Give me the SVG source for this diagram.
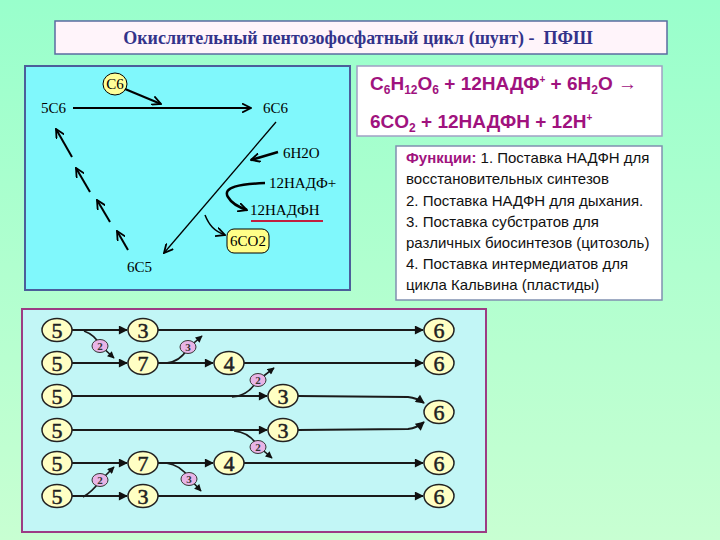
<svg xmlns="http://www.w3.org/2000/svg" width="720" height="540" viewBox="0 0 720 540">
<defs>
<linearGradient id="bg" x1="0" y1="0" x2="0" y2="1">
<stop offset="0" stop-color="#99FFCC"/>
<stop offset="1" stop-color="#C8FFD2"/>
</linearGradient>
<marker id="v" viewBox="0 0 10 10" refX="9" refY="5" markerWidth="10" markerHeight="10" markerUnits="userSpaceOnUse" orient="auto">
<path d="M0,0.5 L9,5 L0,9.5" fill="none" stroke="#000" stroke-width="1.8"/>
</marker>
<marker id="tri" viewBox="0 0 10 10" refX="9" refY="5" markerWidth="10" markerHeight="9" markerUnits="userSpaceOnUse" orient="auto">
<path d="M0,0 L10,5 L0,10 z" fill="#111"/>
</marker>
<marker id="tris" viewBox="0 0 10 10" refX="9" refY="5" markerWidth="8" markerHeight="7" markerUnits="userSpaceOnUse" orient="auto">
<path d="M0,0 L10,5 L0,10 z" fill="#111"/>
</marker>
</defs>
<style>
.lbl{font-family:"Liberation Serif",serif;font-size:15px;fill:#000}
.num{font-family:"Liberation Serif",serif;font-size:22px;fill:#222;stroke:#222;stroke-width:0.5;text-anchor:middle}
.pk{font-family:"Liberation Serif",serif;font-size:11px;font-weight:bold;fill:#333;text-anchor:middle}
.eq{font-family:"Liberation Sans",sans-serif;font-size:19px;font-weight:bold;fill:#A0127E}
.fn{font-family:"Liberation Sans",sans-serif;font-size:15px;fill:#111}
.big{fill:#FFFFC4;stroke:#222;stroke-width:1.5}
.pkc{fill:#E8B4E6;stroke:#333;stroke-width:1}
.ln{fill:none;stroke:#1a1a1a;stroke-width:2;marker-end:url(#tri)}
.br{fill:none;stroke:#1a1a1a;stroke-width:1.6;marker-end:url(#tris)}
.tl{fill:none;stroke:#000;stroke-width:2}
</style>
<rect x="0" y="0" width="720" height="540" fill="url(#bg)"/>

<g id="title">
<rect x="55" y="21" width="612" height="33" fill="#FFF4FA" stroke="#5B6BA0" stroke-width="1.5"/>
<text x="358" y="44" text-anchor="middle" font-family="Liberation Serif, serif" font-size="18" font-weight="bold" fill="#33338A">Окислительный пентозофосфатный цикл (шунт) - &#160;ПФШ</text>
</g>

<g id="cycle-box">
<rect x="25" y="66" width="325" height="224" fill="#80F8FC" stroke="#4B5E9A" stroke-width="2"/>
</g>

<g id="cycle-nodes">
<g id="c6"><ellipse cx="115" cy="84" rx="12" ry="11" fill="#FFFF99" stroke="#000" stroke-width="1"/><text class="lbl" x="115" y="89" text-anchor="middle">C6</text></g>
<g id="n5c6"><text class="lbl" x="41" y="113">5C6</text></g>
<g id="n6c6"><text class="lbl" x="263" y="113">6C6</text></g>
<g id="n6h2o"><text class="lbl" x="283" y="158">6H2O</text></g>
<g id="nnadp"><text class="lbl" x="269" y="188">12НАДФ+</text></g>
<g id="nnadph"><text class="lbl" x="250" y="215">12НАДФН</text><line x1="251" y1="221" x2="323" y2="221" stroke="#C02040" stroke-width="2"/></g>
<g id="nco2"><rect x="227" y="229" width="42" height="24" rx="7" fill="#FFFF88" stroke="#000" stroke-width="1"/><text class="lbl" x="248" y="246" text-anchor="middle">6CO2</text></g>
<g id="n6c5"><text class="lbl" x="127" y="272">6C5</text></g>
</g>

<g id="cycle-connectors">
<path class="tl" d="M125,89 L161,104" marker-end="url(#v)"/>
<path class="tl" d="M73,108 L251,108" marker-end="url(#v)"/>
<path fill="none" stroke="#000" stroke-width="1.3" d="M276,122 L164,253" marker-end="url(#v)"/>
<path fill="none" stroke="#000" stroke-width="2.5" d="M278,152 L251,160" marker-end="url(#v)"/>
<path fill="none" stroke="#000" stroke-width="2.5" d="M265,183 C240,184 222,187 228,197 C232,204 238,207 247,210" marker-end="url(#v)"/>
<path fill="none" stroke="#000" stroke-width="1.5" d="M205,215 C209,225 214,231 225,235" marker-end="url(#v)"/>
<path class="tl" d="M128,250 L117,231" marker-end="url(#v)"/>
<path class="tl" d="M110,222 L97,200" marker-end="url(#v)"/>
<path class="tl" d="M90,192 L76,168" marker-end="url(#v)"/>
<path class="tl" d="M72,157 L56,129" marker-end="url(#v)"/>
</g>

<g id="equation">
<rect x="357" y="66" width="305" height="70" fill="#FFFFFF" stroke="#A0A0C4" stroke-width="1.5"/>
<text class="eq" x="370" y="90">C<tspan font-size="12" dy="4">6</tspan><tspan dy="-4">H</tspan><tspan font-size="12" dy="4">12</tspan><tspan dy="-4">O</tspan><tspan font-size="12" dy="4">6</tspan><tspan dy="-4"> + 12НАДФ</tspan><tspan font-size="10" dy="-7">+</tspan><tspan dy="7"> + 6H</tspan><tspan font-size="12" dy="4">2</tspan><tspan dy="-4">O </tspan><tspan font-weight="normal">→</tspan></text>
<text class="eq" x="370" y="128">6CO<tspan font-size="12" dy="4">2</tspan><tspan dy="-4"> + 12НАДФН + 12H</tspan><tspan font-size="10" dy="-7">+</tspan></text>
</g>

<g id="functions">
<rect x="396" y="146" width="266" height="154" fill="#FFFFFF" stroke="#8090B0" stroke-width="1.5"/>
<text class="fn" x="406" y="163"><tspan font-weight="bold" fill="#A0127E">Функции:</tspan> 1. Поставка НАДФН для</text>
<text class="fn" x="406" y="184">восстановительных синтезов</text>
<text class="fn" x="406" y="206">2. Поставка НАДФН для дыхания.</text>
<text class="fn" x="406" y="227">3. Поставка субстратов для</text>
<text class="fn" x="406" y="248">различных биосинтезов (цитозоль)</text>
<text class="fn" x="406" y="269">4. Поставка интермедиатов для</text>
<text class="fn" x="406" y="290">цикла Кальвина (пластиды)</text>
</g>

<g id="scheme-box">
<rect x="22" y="309" width="464" height="223" fill="#C2F6F6" stroke="#9C3C84" stroke-width="2"/>
</g>

<g id="scheme-connectors">
<path class="ln" d="M72,330 L127,330"/>
<path class="ln" d="M158,330 L423,330"/>
<path class="br" d="M84,331 Q95,335 100,345 L114,358"/>
<path class="ln" d="M72,363 L127,363"/>
<path class="ln" d="M158,363 L213,363"/>
<path class="ln" d="M244,363 L423,363"/>
<path class="br" d="M166,363 Q180,362 188,348 L202,336"/>
<path class="ln" d="M72,396 L267,396"/>
<path class="br" d="M232,397 Q248,396 257,381 L274,368"/>
<path class="ln" d="M298,396 L408,397 Q417,398 424,403"/>
<path class="ln" d="M72,430 L267,430"/>
<path class="br" d="M234,431 Q249,432 258,446 L272,458"/>
<path class="ln" d="M298,430 L408,429 Q417,428 424,422"/>
<path class="ln" d="M72,463 L127,463"/>
<path class="ln" d="M158,463 L213,463"/>
<path class="ln" d="M244,463 L423,463"/>
<path class="br" d="M166,463 Q181,465 189,478 L201,491"/>
<path class="ln" d="M72,496 L127,496"/>
<path class="ln" d="M158,496 L423,496"/>
<path class="br" d="M83,497 Q92,492 100,481 L114,467"/>
</g>

<g id="scheme-nodes">
<g id="r1a"><ellipse class="big" cx="57" cy="330" rx="15" ry="11.5"/><text class="num" x="57" y="338">5</text></g>
<g id="r1b"><ellipse class="big" cx="143" cy="330" rx="15" ry="11.5"/><text class="num" x="143" y="338">3</text></g>
<g id="r1c"><ellipse class="big" cx="439" cy="330" rx="15" ry="11.5"/><text class="num" x="439" y="338">6</text></g>
<g id="r2a"><ellipse class="big" cx="57" cy="363" rx="15" ry="11.5"/><text class="num" x="57" y="371">5</text></g>
<g id="r2b"><ellipse class="big" cx="143" cy="363" rx="15" ry="11.5"/><text class="num" x="143" y="371">7</text></g>
<g id="r2c"><ellipse class="big" cx="229" cy="363" rx="15" ry="11.5"/><text class="num" x="229" y="371">4</text></g>
<g id="r2d"><ellipse class="big" cx="439" cy="363" rx="15" ry="11.5"/><text class="num" x="439" y="371">6</text></g>
<g id="r3a"><ellipse class="big" cx="57" cy="396" rx="15" ry="11.5"/><text class="num" x="57" y="404">5</text></g>
<g id="r3b"><ellipse class="big" cx="283" cy="396" rx="15" ry="11.5"/><text class="num" x="283" y="404">3</text></g>
<g id="r34"><ellipse class="big" cx="439" cy="412" rx="15" ry="11.5"/><text class="num" x="439" y="420">6</text></g>
<g id="r4a"><ellipse class="big" cx="57" cy="430" rx="15" ry="11.5"/><text class="num" x="57" y="438">5</text></g>
<g id="r4b"><ellipse class="big" cx="283" cy="430" rx="15" ry="11.5"/><text class="num" x="283" y="438">3</text></g>
<g id="r5a"><ellipse class="big" cx="57" cy="463" rx="15" ry="11.5"/><text class="num" x="57" y="471">5</text></g>
<g id="r5b"><ellipse class="big" cx="143" cy="463" rx="15" ry="11.5"/><text class="num" x="143" y="471">7</text></g>
<g id="r5c"><ellipse class="big" cx="229" cy="463" rx="15" ry="11.5"/><text class="num" x="229" y="471">4</text></g>
<g id="r5d"><ellipse class="big" cx="439" cy="463" rx="15" ry="11.5"/><text class="num" x="439" y="471">6</text></g>
<g id="r6a"><ellipse class="big" cx="57" cy="496" rx="15" ry="11.5"/><text class="num" x="57" y="504">5</text></g>
<g id="r6b"><ellipse class="big" cx="143" cy="496" rx="15" ry="11.5"/><text class="num" x="143" y="504">3</text></g>
<g id="r6c"><ellipse class="big" cx="439" cy="496" rx="15" ry="11.5"/><text class="num" x="439" y="504">6</text></g>
<g id="p1"><ellipse class="pkc" cx="100" cy="346" rx="8" ry="6.5"/><text class="pk" x="100" y="350">2</text></g>
<g id="p2"><ellipse class="pkc" cx="188" cy="347" rx="8" ry="6.5"/><text class="pk" x="188" y="351">3</text></g>
<g id="p3"><ellipse class="pkc" cx="258" cy="380" rx="8" ry="6.5"/><text class="pk" x="258" y="384">2</text></g>
<g id="p4"><ellipse class="pkc" cx="258" cy="447" rx="8" ry="6.5"/><text class="pk" x="258" y="451">2</text></g>
<g id="p5"><ellipse class="pkc" cx="189" cy="479" rx="8" ry="6.5"/><text class="pk" x="189" y="483">3</text></g>
<g id="p6"><ellipse class="pkc" cx="100" cy="480" rx="8" ry="6.5"/><text class="pk" x="100" y="484">2</text></g>
</g>
</svg>
